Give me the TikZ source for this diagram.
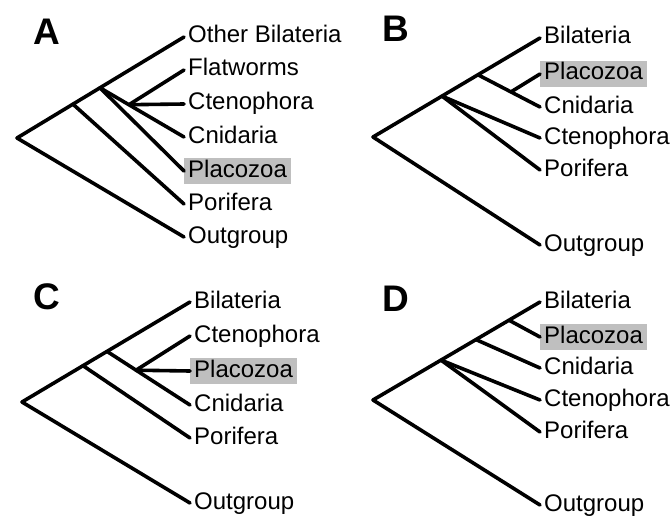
\documentclass[tikz,border=0pt]{standalone}
\usepackage{fontspec}
\setmainfont{Liberation Sans}
\begin{document}
\begin{tikzpicture}[x=1pt,y=-1pt,
  branch/.style={line width=3.6pt, line cap=round, line join=round},
  leaf/.style={anchor=west, inner xsep=4pt, inner ysep=2pt, text height=17pt, text depth=5pt, font=\fontsize{24}{25}\selectfont},
  hl/.style={fill=black!25},
  panel/.style={font=\fontsize{37}{37}\selectfont\bfseries, inner sep=0pt}]
\useasboundingbox (0,0) rectangle (672,519);

% ---------- Panel A ----------
\node[panel] (labA) at (47,32) {A};
\coordinate (rA) at (17,138);
\coordinate (nA1) at (73,104.2);
\coordinate (nA2) at (100,87.8);
\coordinate (nA3) at (129,104.7);
\node[leaf] (Aoth) at (184,37) {Other Bilateria};
\node[leaf] (Aflat) at (184,70) {Flatworms};
\node[leaf] (Acten) at (184,104) {Ctenophora};
\node[leaf] (Acnid) at (184,137) {Cnidaria};
\node[leaf,hl] (Aplac) at (184,171) {Placozoa};
\node[leaf] (Apori) at (184,204) {Porifera};
\node[leaf] (Aout) at (184,237) {Outgroup};
\draw[branch] (Aoth.west) -- (rA) -- (Aout.west);
\draw[branch] (nA1) -- (Apori.west);
\draw[branch] (nA2) -- (Aplac.west);
\draw[branch] (nA2) -- (Acnid.west);
\draw[branch] (nA3) -- (Aflat.west);
\draw[branch] (nA3) -- (Acten.west);

% ---------- Panel B ----------
\node[panel] (labB) at (396,29) {B};
\coordinate (rB) at (373,137);
\coordinate (nB1) at (442,96.1);
\coordinate (nB2) at (478,74.8);
\coordinate (nB3) at (511,91.9);
\node[leaf] (Bbil) at (540,38) {Bilateria};
\node[leaf,hl] (Bplac) at (540,74) {Placozoa};
\node[leaf] (Bcnid) at (540,107) {Cnidaria};
\node[leaf] (Bcten) at (540,138) {Ctenophora};
\node[leaf] (Bpori) at (540,170) {Porifera};
\node[leaf] (Bout) at (540,245) {Outgroup};
\draw[branch] (Bbil.west) -- (rB) -- (Bout.west);
\draw[branch] (nB1) -- (Bcten.west);
\draw[branch] (nB1) -- (Bpori.west);
\draw[branch] (nB2) -- (Bcnid.west);
\draw[branch] (nB3) -- (Bplac.west);

% ---------- Panel C ----------
\node[panel] (labC) at (47,297) {C};
\coordinate (rC) at (22,402);
\coordinate (nC1) at (83,365.7);
\coordinate (nC2) at (107,351.4);
\coordinate (nC3) at (136,370.2);
\node[leaf] (Cbil) at (190,302) {Bilateria};
\node[leaf] (Ccten) at (190,336) {Ctenophora};
\node[leaf,hl] (Cplac) at (190,371) {Placozoa};
\node[leaf] (Ccnid) at (190,405) {Cnidaria};
\node[leaf] (Cpori) at (190,438) {Porifera};
\node[leaf] (Cout) at (190,503) {Outgroup};
\draw[branch] (Cbil.west) -- (rC) -- (Cout.west);
\draw[branch] (nC1) -- (Cpori.west);
\draw[branch] (nC2) -- (Ccnid.west);
\draw[branch] (nC3) -- (Ccten.west);
\draw[branch] (nC3) -- (Cplac.west);

% ---------- Panel D ----------
\node[panel] (labD) at (396,299) {D};
\coordinate (rD) at (373,400);
\coordinate (nD1) at (441,360.1);
\coordinate (nD2) at (476,339.6);
\coordinate (nD3) at (509,320.2);
\node[leaf] (Dbil) at (540,302) {Bilateria};
\node[leaf,hl] (Dplac) at (540,337) {Placozoa};
\node[leaf] (Dcnid) at (540,368) {Cnidaria};
\node[leaf] (Dcten) at (540,400) {Ctenophora};
\node[leaf] (Dpori) at (540,432) {Porifera};
\node[leaf] (Dout) at (540,505) {Outgroup};
\draw[branch] (Dbil.west) -- (rD) -- (Dout.west);
\draw[branch] (nD1) -- (Dcten.west);
\draw[branch] (nD1) -- (Dpori.west);
\draw[branch] (nD2) -- (Dcnid.west);
\draw[branch] (nD3) -- (Dplac.west);
\end{tikzpicture}
\end{document}
